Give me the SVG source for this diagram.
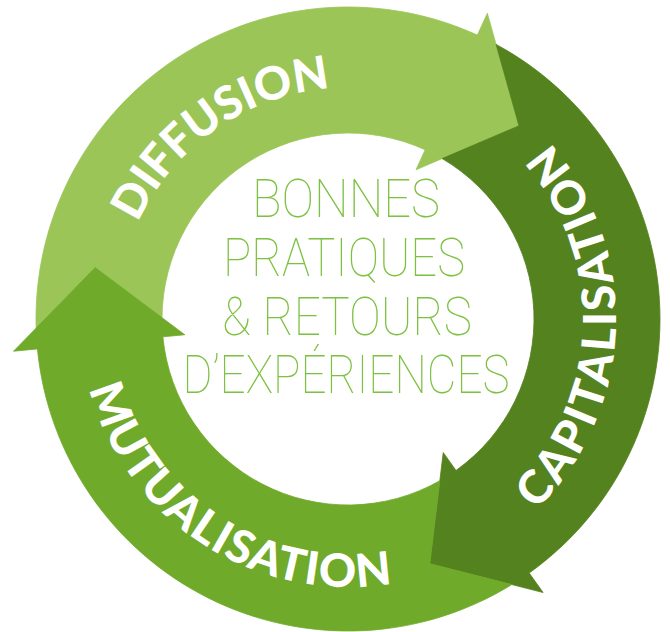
<svg xmlns="http://www.w3.org/2000/svg" width="670" height="632" viewBox="0 0 670 632">
<style>
.light{fill:#9BC557;stroke:#9BC557}
.mid{fill:#6FAA2A;stroke:#6FAA2A}
.dark{fill:#54821E;stroke:#54821E}
.arrow{stroke-width:0.8;stroke-linejoin:miter}
.lbl{fill:#FFFFFF;font-family:Lato,"Open Sans","Liberation Sans",sans-serif;font-weight:900;font-size:46px}
.ctr{fill:#7DC142;font-family:Roboto,Inter,Lato,"Liberation Sans",sans-serif;font-weight:100;font-size:53px;text-anchor:middle}
</style>
<defs>
<path id="pDiff" d="M123.68,376.31 A232,232 0 0,1 479.41,128.02"/>
<path id="pCap" d="M429.93,574.16 A268,268 0 0,0 449.26,70.85"/>
<path id="pMut" d="M86.56,260.15 A268,268 0 0,0 510.41,532.20"/>
</defs>
<rect width="670" height="632" fill="#FFFFFF"/>
<g id="node-diffusion">
<path class="arrow light" d="M36.13,328.09 L95.18,267.56 L162.01,317.67 A186,186 0 0,1 425.13,149.75 L416.01,169.77 L518.96,125.77 L487.34,13.25 L477.38,35.09 A312,312 0 0,0 36.13,328.09 Z"/>
<text class="lbl"><textPath href="#pDiff" startOffset="50%" text-anchor="middle" textLength="246" lengthAdjust="spacing">DIFFUSION</textPath></text>
</g>
<g id="node-capitalisation">
<path class="arrow dark" d="M496.08,44.38 L518.96,125.77 L442.13,158.58 A186,186 0 0,1 456.01,470.43 L443.23,452.52 L429.86,563.67 L543.12,592.54 L529.18,573.01 A312,312 0 0,0 496.08,44.38 Z"/>
<text class="lbl"><textPath href="#pCap" startOffset="50%" text-anchor="middle" textLength="405" lengthAdjust="spacing">CAPITALISATION</textPath></text>
</g>
<g id="node-mutualisation">
<path class="arrow mid" d="M511.81,584.54 L429.86,563.67 L439.86,480.74 A186,186 0 0,1 162.86,336.83 L184.75,334.72 L95.18,267.56 L13.55,351.21 L37.44,348.91 A312,312 0 0,0 511.81,584.54 Z"/>
<text class="lbl"><textPath href="#pMut" startOffset="50%" text-anchor="middle" textLength="395" lengthAdjust="spacing">MUTUALISATION</textPath></text>
</g>
<g id="node-center">
<text class="ctr" x="346" y="217" textLength="188" lengthAdjust="spacingAndGlyphs">BONNES</text>
<text class="ctr" x="344" y="276" textLength="242" lengthAdjust="spacingAndGlyphs">PRATIQUES</text>
<text class="ctr" x="347" y="335" textLength="250" lengthAdjust="spacingAndGlyphs">&amp; RETOURS</text>
<text class="ctr" x="346" y="393" textLength="327" lengthAdjust="spacingAndGlyphs">D’EXPÉRIENCES</text>
</g>
</svg>
